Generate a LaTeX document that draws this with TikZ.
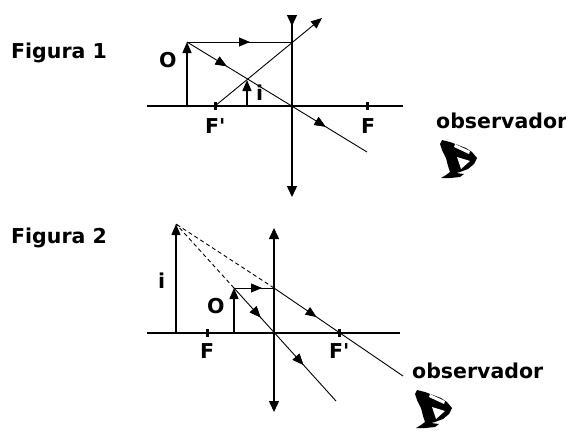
\documentclass[tikz,border=0pt]{standalone}
\usepackage{fontspec}
\setmainfont{DejaVu Sans}
\usetikzlibrary{arrows.meta,decorations.markings,calc}

\tikzset{
  lbl/.style={font=\bfseries\fontsize{20.5}{22}\selectfont, inner sep=0pt, anchor=base west},
  axisline/.style={line width=1.5pt},
  objline/.style={line width=1.5pt},
  ray/.style={line width=0.9pt},
  virt/.style={line width=0.9pt, dash pattern=on 4pt off 3pt},
  tipend/.style={-{Triangle[length=11pt,width=9pt]}},
  lensdiv/.style={line width=1.5pt, {Triangle[length=11pt,width=10pt,reversed]}-{Triangle[length=11pt,width=10pt]}},
  lensconv/.style={line width=1.5pt, {Triangle[length=11pt,width=10pt]}-{Triangle[length=11pt,width=10pt]}},
  midtip/.style={postaction={decorate}, decoration={markings,
      mark=at position #1 with {\arrow{Triangle[length=11pt,width=9pt]}}}},
  focustick/.style={line width=3pt},
  eyeicon/.pic={
    \fill[black] (12,4) -- (20,6) -- (28,9) -- (36,12) -- (42,16) -- (47,22)
      -- (44,28) -- (38,33) -- (30,36) -- (26,37) -- (34,38) -- (30,41)
      -- (20,42) -- (11,42) -- (16,39) -- (20,36) -- (18,30) -- (16,22)
      -- (12,14) -- (10,8) -- cycle;
    \fill[white] (27,21) -- (40,25) -- (31,33) -- cycle;
    \fill[white] (25,8) -- (40,15) -- (39,18) -- (24,11) -- cycle;
  }
}

\begin{document}
\begin{tikzpicture}[x=1pt,y=-1pt]
\useasboundingbox (0,0) rectangle (566,432);
\fill[white] (0,0) rectangle (566,432);

% ---------------- Figura 1: diverging lens ----------------
\node[lbl] (fig1) at (11,58) {Figura 1};

\coordinate (A1l) at (147,106);
\coordinate (A1r) at (403,106);
\coordinate (L1t) at (292,15);
\coordinate (L1b) at (292,197);
\coordinate (L1c) at (292,106);
\coordinate (O1b) at (187,106);
\coordinate (O1t) at (187,42);
\coordinate (R1)  at (292,42);
\coordinate (F1p) at (215,106);
\coordinate (F1)  at (367,106);
\coordinate (E1)  at (322,18);
\coordinate (E2)  at (367,152);
\coordinate (I1b) at (247,106);
\coordinate (I1t) at (247,80);

\draw[axisline] (A1l) -- (A1r);
\draw[lensdiv] (L1t) -- (L1b);
\draw[focustick] ($(F1p)+(0,-4)$) -- ($(F1p)+(0,4)$);
\draw[focustick] ($(F1)+(0,-4)$) -- ($(F1)+(0,4)$);

\draw[objline, tipend] (O1b) -- (O1t);
\draw[objline, tipend] (I1b) -- (I1t);

\draw[ray, midtip=0.6] (O1t) -- (R1);
\draw[ray, tipend] (F1p) -- (E1);
\draw[ray, midtip=0.22, midtip=0.77] (O1t) -- (E2);

\node[lbl] (o1) at (159,67) {O};
\node[lbl] (i1) at (256,100) {i};
\node[lbl] (f1p) at (205,133) {F\textquotesingle};
\node[lbl] (f1) at (361,133) {F};

\node[lbl] (obs1) at (436,128) {observador};
\pic at (430,136) {eyeicon};

% ---------------- Figura 2: converging lens ----------------
\node[lbl] (fig2) at (11,243) {Figura 2};

\coordinate (A2l) at (147,333);
\coordinate (A2r) at (400,333);
\coordinate (L2t) at (274,228);
\coordinate (L2b) at (274,412);
\coordinate (L2c) at (274,333);
\coordinate (O2b) at (234,333);
\coordinate (O2t) at (234,288);
\coordinate (R2)  at (274,288);
\coordinate (F2)  at (207,333);
\coordinate (F2p) at (339,333);
\coordinate (E3)  at (403,376);
\coordinate (E4)  at (336,401);
\coordinate (I2b) at (176,333);
\coordinate (I2t) at (176,224);

\draw[axisline] (A2l) -- (A2r);
\draw[lensconv] (L2t) -- (L2b);
\draw[focustick] ($(F2)+(0,-4)$) -- ($(F2)+(0,4)$);
\draw[focustick] ($(F2p)+(0,-4)$) -- ($(F2p)+(0,4)$);

\draw[objline, tipend] (O2b) -- (O2t);
\draw[objline, tipend] (I2b) -- (I2t);

\draw[ray, midtip=0.7] (O2t) -- (R2);
\draw[ray, midtip=0.33] (R2) -- (E3);
\draw[ray, midtip=0.26, midtip=0.68] (O2t) -- (E4);

\draw[virt] (R2) -- (I2t);
\draw[virt] (O2t) -- (I2t);

\node[lbl] (i2) at (158,288) {i};
\node[lbl] (o2) at (207,313) {O};
\node[lbl] (f2) at (200,358) {F};
\node[lbl] (f2p) at (329,358) {F\textquotesingle};

\node[lbl] (obs2) at (412,378) {observador};
\pic at (405,386) {eyeicon};
\end{tikzpicture}
\end{document}
